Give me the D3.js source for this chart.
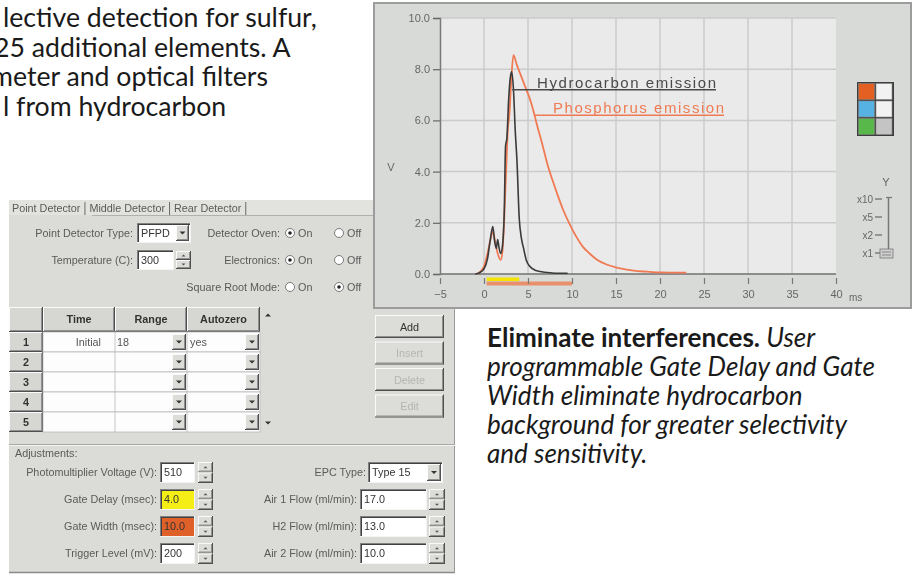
<!DOCTYPE html>
<html><head><meta charset="utf-8">
<script src="https://cdn.jsdelivr.net/npm/d3@7"></script>
<style>
body{margin:0;background:#fff;overflow:hidden}
svg{display:block}
</style></head>
<body>
<svg id="c" width="915" height="576"></svg>
<script>
// ================= DATA =================
const timeTicks = [-5, 0, 5, 10, 15, 20, 25, 30, 35, 40];
const voltTicks = [0, 2, 4, 6, 8, 10];
const hcTime = [-1.0,-0.5,0,0.4,0.7,1.0,1.2,1.4,1.55,1.7,1.9,2.1,2.3,2.45,2.6,2.8,3.0,3.15,3.35,3.55,3.75,4.0,4.25,4.5,4.8,5.2,5.8,6.4,7.5,8.5,9.5];
const hcVolt = [0.0,0.05,0.2,0.6,1.3,1.85,1.3,1.0,1.35,1.05,0.8,1.1,2.4,5.0,5.3,6.8,7.7,7.9,7.2,5.6,4.4,2.2,1.4,1.0,0.55,0.3,0.15,0.1,0.05,0.03,0.03];
const pTime = [-0.8,-0.4,0,0.4,0.7,1.0,1.3,1.6,1.9,2.1,2.3,2.5,2.7,2.9,3.1,3.35,3.7,4.2,4.7,5.2,5.6,6.0,6.6,7.2,7.8,8.4,9.0,9.8,10.5,11.2,12.0,12.8,14.0,15.2,17.0,18.5,20.0,23.0];
const pVolt = [0,0.1,0.3,0.8,1.3,1.65,1.2,0.75,0.55,0.9,2.2,3.9,5.6,6.3,7.6,8.55,8.2,7.75,7.3,6.85,6.4,5.85,5.1,4.3,3.65,3.05,2.5,1.9,1.45,1.08,0.8,0.57,0.36,0.24,0.13,0.09,0.06,0.05];
const gateDelayRange = [0.3, 4.0];
const gateWidthRange = [0.3, 10.0];
const seriesLabels = ["Hydrocarbon emission", "Phosphorus emission"];
const labelAnchors = [[3.2, 7.2], [5.8, 6.2]];
const xUnit = "ms", yUnit = "V";
const legendColors = [["#e45e24", "#f2f2f2"], ["#54b2e2", "#f2f2f2"], ["#58b848", "#c4c4c4"]];
const yRangeLabels = ["x10", "x5", "x2", "x1"];

const introLines = ["lective detection for sulfur,", "25 additional elements. A", "meter and optical filters", "l from hydrocarbon"];
const captionBold = "Eliminate interferences.";
const captionLines = [" User", "programmable Gate Delay and Gate", "Width eliminate hydrocarbon", "background for greater selectivity", "and sensitivity."];

const tabs = ["Point Detector", "Middle Detector", "Rear Detector"];
const topLeftFields = [{label: "Point Detector Type:", value: "PFPD", kind: "drop"}, {label: "Temperature (C):", value: "300", kind: "spin"}];
const radioFields = [{label: "Detector Oven:", on: true}, {label: "Electronics:", on: true}, {label: "Square Root Mode:", on: false}];
const radioOptions = ["On", "Off"];
const tableHeaders = ["Time", "Range", "Autozero"];
const rowNumbers = [1, 2, 3, 4, 5];
const tableRow1 = ["Initial", "18", "yes"];
const buttons = ["Add", "Insert", "Delete", "Edit"];
const buttonEnabled = [true, false, false, false];
const adjTitle = "Adjustments:";
const adjLeft = [
  {label: "Photomultiplier Voltage (V):", value: "510", fill: "#ffffff"},
  {label: "Gate Delay (msec):", value: "4.0", fill: "#f4ee18"},
  {label: "Gate Width (msec):", value: "10.0", fill: "#e0602a"},
  {label: "Trigger Level (mV):", value: "200", fill: "#ffffff"}];
const adjRight = [
  {label: "EPC Type:", value: "Type 15", kind: "drop"},
  {label: "Air 1 Flow (ml/min):", value: "17.0", kind: "spin"},
  {label: "H2 Flow (ml/min):", value: "13.0", kind: "spin"},
  {label: "Air 2 Flow (ml/min):", value: "10.0", kind: "spin"}];

// ================= DRAW =================
const svg = d3.select("#c");
const defs = svg.append("defs");
defs.append("filter").attr("id", "soft").attr("x", "-2%").attr("y", "-2%").attr("width", "104%").attr("height", "104%")
  .append("feGaussianBlur").attr("stdDeviation", 0.5);

const UI = "'Liberation Sans', Arial, sans-serif";
const BODY = "Lato, 'Open Sans', sans-serif";

// ---------- body text ----------
function fitSize(str, target, family, weight, style) {
  const t = svg.append("text").attr("font-family", family).attr("font-size", 20)
    .attr("font-weight", weight || "normal").attr("font-style", style || "normal").text(str);
  const w = t.node().getComputedTextLength(); t.remove();
  return 20 * target / w;
}
const introSize = fitSize(introLines[0], 314, BODY);
const introX = [3, -6, -9, 3];
introLines.forEach((s, i) => {
  svg.append("text").attr("x", introX[i]).attr("y", 27 + i * 29.5)
    .attr("font-family", BODY).attr("font-size", introSize).attr("fill", "#1a1a1a").text(s);
});
const capSize = fitSize(captionLines[1], 388, BODY, "normal", "italic");
const cap = svg.append("text").attr("font-family", BODY).attr("font-size", capSize).attr("fill", "#1a1a1a");
const l0 = cap.append("tspan").attr("x", 487).attr("y", 347);
l0.append("tspan").attr("font-weight", "bold").text(captionBold);
l0.append("tspan").attr("font-style", "italic").text(captionLines[0]);
captionLines.slice(1).forEach((s, i) => {
  cap.append("tspan").attr("x", 487).attr("y", 347 + (i + 1) * 29).attr("font-style", "italic").text(s);
});

// ---------- dialog ----------
const dlg = svg.append("g").attr("filter", "url(#soft)");
const TXT = "#5a5a5a";
const FS = 10.8;
function label(g, x, y, s, anchor, color, weight) {
  return g.append("text").attr("x", x).attr("y", y).attr("text-anchor", anchor || "start")
    .attr("font-family", UI).attr("font-size", FS).attr("fill", color || TXT)
    .attr("font-weight", weight || "normal").text(s);
}
function hline(g, x1, x2, y, c, w) { g.append("line").attr("x1", x1).attr("x2", x2).attr("y1", y).attr("y2", y).attr("stroke", c).attr("stroke-width", w || 1); }
function vline(g, x, y1, y2, c, w) { g.append("line").attr("x1", x).attr("x2", x).attr("y1", y1).attr("y2", y2).attr("stroke", c).attr("stroke-width", w || 1); }
function sunken(g, x, y, w, h, fill) {
  g.append("rect").attr("x", x).attr("y", y).attr("width", w).attr("height", h).attr("fill", fill || "#fff");
  hline(g, x, x + w, y + 0.5, "#808080"); vline(g, x + 0.5, y, y + h, "#808080");
  hline(g, x + 1, x + w - 1, y + 1.5, "#404040"); vline(g, x + 1.5, y + 1, y + h - 1, "#404040");
  hline(g, x, x + w, y + h - 0.5, "#f4f4f4"); vline(g, x + w - 0.5, y, y + h, "#f4f4f4");
}
function raised(g, x, y, w, h, fill) {
  g.append("rect").attr("x", x).attr("y", y).attr("width", w).attr("height", h).attr("fill", fill || "#dcdcd8");
  hline(g, x, x + w, y + 0.5, "#fafafa"); vline(g, x + 0.5, y, y + h, "#fafafa");
  hline(g, x, x + w, y + h - 0.5, "#505050"); vline(g, x + w - 0.5, y, y + h, "#505050");
  hline(g, x + 1, x + w - 1, y + h - 1.5, "#909090"); vline(g, x + w - 1.5, y + 1, y + h - 1, "#909090");
}
function tri(g, cx, cy, s, up, c) {
  const p = up ? [[cx - s, cy + s / 2], [cx + s, cy + s / 2], [cx, cy - s / 2]] : [[cx - s, cy - s / 2], [cx + s, cy - s / 2], [cx, cy + s / 2]];
  g.append("path").attr("d", d3.line()(p) + "Z").attr("fill", c || "#333");
}
function dropBtn(g, x, y, w, h) { raised(g, x, y, w, h); tri(g, x + w / 2, y + h / 2, 3, false); }
function spinner(g, x, y, w, h) {
  raised(g, x, y, w, h / 2); raised(g, x, y + h / 2, w, h / 2);
  tri(g, x + w / 2, y + h / 4, 2, true, "#555"); tri(g, x + w / 2, y + 3 * h / 4, 2, false, "#555");
}
function radio(g, cx, cy, on) {
  g.append("circle").attr("cx", cx).attr("cy", cy).attr("r", 4.5).attr("fill", "#fff").attr("stroke", "#7a7a7a");
  if (on) g.append("circle").attr("cx", cx).attr("cy", cy).attr("r", 1.8).attr("fill", "#222");
}

// panel
dlg.append("rect").attr("x", 9).attr("y", 200).attr("width", 446).attr("height", 373).attr("fill", "#dbdbd7");
dlg.append("rect").attr("x", 9).attr("y", 200).attr("width", 446).attr("height", 15).attr("fill", "#e2e2de");
hline(dlg, 9, 455, 572.5, "#8a8a8a", 1.5);
vline(dlg, 454.5, 200, 573, "#9a9a9a");
// tabs
let tx = 12;
tabs.forEach((t, i) => {
  const el = label(dlg, tx, 211.5, t, "start", TXT);
  tx += el.node().getComputedTextLength() + 4;
  vline(dlg, tx + 0.5, 202, 215, "#6a6a6a");
  tx += 5;
});
hline(dlg, 92, 455, 215.5, "#b0b0b0");

// top fields
topLeftFields.forEach((f, i) => {
  const cy = 233 + i * 27;
  label(dlg, 133, cy + 4, f.label, "end");
  if (f.kind === "drop") {
    sunken(dlg, 137, cy - 10, 54, 20);
    label(dlg, 141, cy + 4, f.value, "start", "#333");
    dropBtn(dlg, 176, cy - 8, 13, 16);
  } else {
    sunken(dlg, 137, cy - 10, 37, 20);
    label(dlg, 141, cy + 4, f.value, "start", "#333");
    spinner(dlg, 176, cy - 9, 15, 18);
  }
});
radioFields.forEach((f, i) => {
  const cy = 233 + i * 27;
  label(dlg, 280, cy + 4, f.label, "end");
  radio(dlg, 290, cy, f.on); label(dlg, 298, cy + 4, radioOptions[0]);
  radio(dlg, 339, cy, !f.on); label(dlg, 347, cy + 4, radioOptions[1]);
});

// table
const colX = [9, 43, 115, 187, 260, 276];
const headTop = 307, headBot = 332, rowH = 20;
dlg.append("rect").attr("x", 9).attr("y", headTop).attr("width", 251).attr("height", headBot - headTop).attr("fill", "#d6d6d2");
raised(dlg, 9, headTop, 34, headBot - headTop, "#d6d6d2");
tableHeaders.forEach((h, i) => {
  raised(dlg, colX[i + 1], headTop, colX[i + 2] - colX[i + 1], headBot - headTop, "#d6d6d2");
  label(dlg, (colX[i + 1] + colX[i + 2]) / 2, headTop + 16, h, "middle", "#333", "bold");
});
rowNumbers.forEach((n, r) => {
  const y0 = headBot + r * rowH;
  raised(dlg, 9, y0, 34, rowH, "#d6d6d2");
  label(dlg, 26, y0 + 14, String(n), "middle", "#333", "bold");
  dlg.append("rect").attr("x", 43).attr("y", y0).attr("width", 217).attr("height", rowH).attr("fill", "#fdfdfd")
    .attr("stroke", "#b8b8b8").attr("stroke-width", 0.8);
  vline(dlg, 115, y0, y0 + rowH, "#b8b8b8", 0.8);
  vline(dlg, 187, y0, y0 + rowH, "#b8b8b8", 0.8);
  dropBtn(dlg, 172, y0 + 2, 14, rowH - 4);
  dropBtn(dlg, 245, y0 + 2, 14, rowH - 4);
});
label(dlg, 101, headBot + 14, tableRow1[0], "end", "#555");
label(dlg, 117, headBot + 14, tableRow1[1], "start", "#555");
label(dlg, 190, headBot + 14, tableRow1[2], "start", "#555");
tri(dlg, 268, headTop + 8, 3, true, "#333");
tri(dlg, 268, headBot + 4 * rowH + 11, 3, false, "#333");

// buttons
buttons.forEach((b, i) => {
  const y0 = 315 + i * 26.5;
  raised(dlg, 375, y0, 69, 23);
  label(dlg, 409.5, y0 + 15.5, b, "middle", buttonEnabled[i] ? "#333" : "#b4b4b4");
});

// adjustments
hline(dlg, 9, 455, 444.5, "#a8a8a8");
hline(dlg, 9, 455, 445.5, "#f4f4f4");
label(dlg, 15, 457, adjTitle, "start", TXT);
adjLeft.forEach((f, i) => {
  const cy = 472 + i * 27;
  label(dlg, 157, cy + 4, f.label, "end");
  sunken(dlg, 160, cy - 10, 35, 21, f.fill);
  label(dlg, 164, cy + 4, f.value, "start", "#333");
  spinner(dlg, 198, cy - 10, 15, 21);
});
adjRight.forEach((f, i) => {
  const cy = 472 + i * 27;
  if (f.kind === "drop") {
    label(dlg, 366, cy + 4, f.label, "end");
    sunken(dlg, 368, cy - 10, 75, 21);
    label(dlg, 372, cy + 4, f.value, "start", "#333");
    dropBtn(dlg, 427, cy - 8, 14, 17);
  } else {
    label(dlg, 357, cy + 4, f.label, "end");
    sunken(dlg, 360, cy - 10, 67, 21);
    label(dlg, 364, cy + 4, f.value, "start", "#333");
    spinner(dlg, 429, cy - 10, 16, 21);
  }
});

// ---------- chart ----------
const ch = svg.append("g").attr("filter", "url(#soft)");
const x = d3.scaleLinear().domain([-5, 40]).range([440, 836]);
const y = d3.scaleLinear().domain([0, 10]).range([274, 18]);

ch.append("rect").attr("x", 374).attr("y", 3).attr("width", 537).attr("height", 305)
  .attr("fill", "#d8dad8").attr("stroke", "#9c9c9c").attr("stroke-width", 2);
ch.append("rect").attr("x", x(-5)).attr("y", y(10)).attr("width", x(40) - x(-5)).attr("height", y(0) - y(10)).attr("fill", "#eaeaea");
// grid
ch.append("g").selectAll("line").data(timeTicks.slice(1, -1)).join("line")
  .attr("x1", d => x(d)).attr("x2", d => x(d)).attr("y1", y(10)).attr("y2", y(0))
  .attr("stroke", "#cbcbcb").attr("stroke-width", 1.5);
ch.append("g").selectAll("line").data(voltTicks.slice(1)).join("line")
  .attr("x1", x(-5)).attr("x2", x(40)).attr("y1", d => y(d)).attr("y2", d => y(d))
  .attr("stroke", "#cbcbcb").attr("stroke-width", 1.5);
hline(ch, x(-5), x(40), y(0), "#707070", 1.5);

// y axis
const yAx = ch.append("g").attr("transform", `translate(${x(-5)},0)`)
  .call(d3.axisLeft(y).tickValues(voltTicks).tickFormat(d3.format(".1f")).tickSize(7).tickPadding(3));
yAx.select(".domain").attr("stroke", "#7a7a7a").attr("stroke-width", 1.5);
yAx.selectAll(".tick line").attr("stroke", "#666").attr("stroke-width", 1.2);
yAx.selectAll("text").attr("font-family", UI).attr("font-size", 11).attr("fill", "#666");

// gate bars
ch.append("rect").attr("x", x(gateWidthRange[0])).attr("y", 281.5).attr("width", x(gateWidthRange[1]) - x(gateWidthRange[0])).attr("height", 4).attr("fill", "#e8906c");
ch.append("rect").attr("x", x(gateDelayRange[0])).attr("y", 277.5).attr("width", x(gateDelayRange[1]) - x(gateDelayRange[0])).attr("height", 3.5).attr("fill", "#f2e400");

// x axis
const xAx = ch.append("g").attr("transform", `translate(0,278)`)
  .call(d3.axisBottom(x).tickValues(timeTicks).tickSize(6).tickPadding(6));
xAx.select(".domain").remove();
xAx.selectAll(".tick line").attr("stroke", "#777").attr("stroke-width", 1.2);
xAx.selectAll("text").attr("font-family", UI).attr("font-size", 11).attr("fill", "#666");
ch.append("text").attr("x", x(40) + 13).attr("y", 301).attr("font-family", UI).attr("font-size", 10).attr("fill", "#666").text(xUnit);
ch.append("text").attr("x", 391).attr("y", 171).attr("text-anchor", "middle").attr("font-family", UI).attr("font-size", 11).attr("fill", "#666").text(yUnit);

// series
const line = d3.line().x(d => x(d[0])).y(d => y(d[1])).curve(d3.curveMonotoneX);
ch.append("path").datum(pTime.map((t, i) => [t, pVolt[i]])).attr("d", line)
  .attr("fill", "none").attr("stroke", "#f07a52").attr("stroke-width", 1.8);
ch.append("path").datum(hcTime.map((t, i) => [t, hcVolt[i]])).attr("d", line)
  .attr("fill", "none").attr("stroke", "#3a3a3a").attr("stroke-width", 1.6);

// series labels
const lblColors = ["#4a4a4a", "#f07a52"];
const lblText = [537, 553], lblEnd = [716, 724];
seriesLabels.forEach((s, i) => {
  const ly = y(labelAnchors[i][1]);
  hline(ch, x(labelAnchors[i][0]), lblEnd[i], ly, lblColors[i], 1.6);
  ch.append("text").attr("x", lblText[i]).attr("y", ly - 2).attr("font-family", UI)
    .attr("font-size", 15).attr("fill", lblColors[i])
    .attr("textLength", lblEnd[i] - lblText[i]).attr("lengthAdjust", "spacing").text(s);
});

// legend swatches
const lg = ch.append("g");
lg.append("rect").attr("x", 857).attr("y", 82).attr("width", 37).attr("height", 54).attr("fill", "#3c3c3c");
legendColors.forEach((row, r) => row.forEach((c, k) => {
  lg.append("rect").attr("x", 858.5 + k * 17.5).attr("y", 83.5 + r * 17.5).attr("width", 16).attr("height", 16)
    .attr("fill", c).attr("stroke", "#888").attr("stroke-width", 0.6);
}));

// Y range slider
ch.append("text").attr("x", 886).attr("y", 186).attr("text-anchor", "middle").attr("font-family", UI).attr("font-size", 11).attr("fill", "#666").text("Y");
yRangeLabels.forEach((s, i) => {
  const cy = 199 + i * 18;
  ch.append("text").attr("x", 873).attr("y", cy + 4).attr("text-anchor", "end").attr("font-family", UI).attr("font-size", 10).attr("fill", "#666").text(s);
  hline(ch, 875, 882, cy, "#666", 1.2);
});
vline(ch, 888.5, 197, 256, "#777", 1.5);
hline(ch, 886, 892, 197.5, "#777", 1.2);
ch.append("rect").attr("x", 880).attr("y", 249).attr("width", 13).attr("height", 9).attr("fill", "#cfcfcf").attr("stroke", "#777").attr("stroke-width", 0.8);
hline(ch, 882, 891, 252, "#777", 0.8); hline(ch, 882, 891, 255, "#777", 0.8);
</script>
</body></html>
